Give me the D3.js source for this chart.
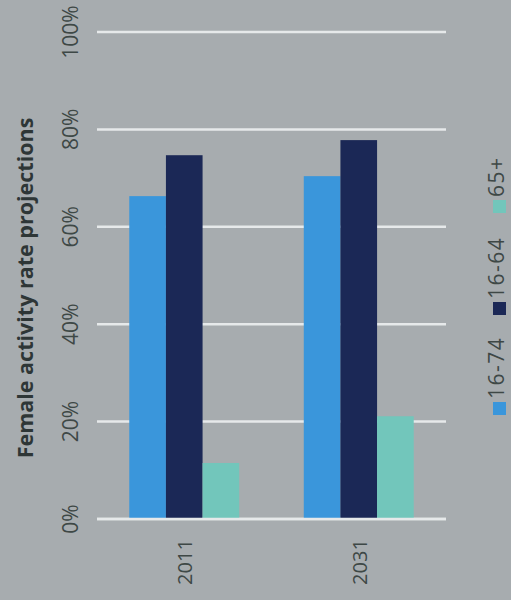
<!DOCTYPE html>
<html><head><meta charset="utf-8">
<script src="https://cdn.jsdelivr.net/npm/d3@7"></script>
<style>html,body{margin:0;padding:0;background:#a7acaf;}svg{display:block;}</style>
</head><body>
<svg id="c" width="511" height="600"></svg>
<script>
const categories = ["2011", "2031"];
const seriesNames = ["16-74", "16-64", "65+"];
const values_16_74 = [0.663, 0.704];
const values_16_64 = [0.747, 0.778];
const values_65plus = [0.115, 0.211];
const tickValues = [0, 0.2, 0.4, 0.6, 0.8, 1.0];
const tickLabels = ["0%", "20%", "40%", "60%", "80%", "100%"];
const title = "Female activity rate projections";

const colors = {"16-74": "#3a96db", "16-64": "#1b2856", "65+": "#72c6bb"};
const seriesValues = {"16-74": values_16_74, "16-64": values_16_64, "65+": values_65plus};

const svg = d3.select("#c");
svg.append("rect").attr("width", 511).attr("height", 600).attr("fill", "#a7acaf");

const x = d3.scaleBand().domain(categories).range([97, 446]).paddingInner(0.37).paddingOuter(0.185);
const xs = d3.scaleBand().domain(seriesNames).range([0, x.bandwidth()]);
const y = d3.scaleLinear().domain([0, 1]).range([519, 32]);

// gridlines
svg.append("g").selectAll("line").data(tickValues).join("line")
  .attr("x1", 97).attr("x2", 446)
  .attr("y1", d => y(d)).attr("y2", d => y(d))
  .attr("stroke", "#e6e9ea").attr("stroke-width", 2.5);

// bars
const data = [];
categories.forEach((c, i) => seriesNames.forEach(s => data.push({c, s, v: seriesValues[s][i]})));
svg.append("g").selectAll("rect").data(data).join("rect")
  .attr("x", d => x(d.c) + xs(d.s))
  .attr("width", xs.bandwidth())
  .attr("y", d => y(d.v))
  .attr("height", d => y(0) - y(d.v))
  .attr("fill", d => colors[d.s]);

// baseline
svg.append("line").attr("x1", 97).attr("x2", 446).attr("y1", y(0)).attr("y2", y(0))
  .attr("stroke", "#e6e9ea").attr("stroke-width", 2.5);

const font = "'Open Sans', sans-serif";
const textColor = "#3e4846";

// y tick labels (rotated)
svg.append("g").selectAll("text").data(tickValues).join("text")
  .attr("transform", d => `translate(78,${y(d)}) rotate(-90)`)
  .attr("text-anchor", "middle")
  .attr("font-family", font).attr("font-size", 21).attr("fill", textColor)
  .text((d, i) => tickLabels[i]);

// x category labels
svg.append("g").selectAll("text").data(categories).join("text")
  .attr("transform", d => `translate(${x(d) + x.bandwidth() / 2 + 8},562) rotate(-90)`)
  .attr("text-anchor", "middle")
  .attr("font-family", font).attr("font-size", 20).attr("fill", textColor)
  .text(d => d);

// title
svg.append("text")
  .attr("transform", "translate(33,288) rotate(-90)")
  .attr("text-anchor", "middle")
  .attr("font-family", font).attr("font-size", 21.5).attr("font-weight", "bold").attr("fill", "#2e3636")
  .text(title);

// legend
const legendY = d3.scaleOrdinal().domain(seriesNames).range([415, 315, 213]);
const lg = svg.append("g").selectAll("g").data(seriesNames).join("g");
lg.append("rect")
  .attr("x", 493).attr("width", 13)
  .attr("y", d => legendY(d) - 13).attr("height", 13)
  .attr("fill", d => colors[d]);
lg.append("text")
  .attr("transform", d => `translate(504,${legendY(d) - 16}) rotate(-90)`)
  .attr("text-anchor", "start")
  .attr("font-family", font).attr("font-size", 21).attr("letter-spacing", 1.5).attr("fill", textColor)
  .text(d => d);
</script>
</body></html>
